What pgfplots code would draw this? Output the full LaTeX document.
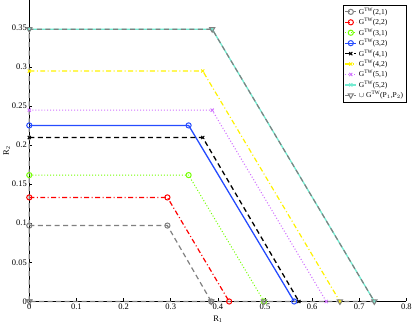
\documentclass[border=0pt]{standalone}
\usepackage{fontspec}
\setmainfont{Liberation Serif}
\usepackage{pgfplots}
\pgfplotsset{compat=1.18}

\definecolor{mgray}{rgb}{0.5,0.5,0.5}
\definecolor{mgreen}{rgb}{0.45,1,0}
\definecolor{mblue}{rgb}{0.15,0.3,1}
\definecolor{mviolet}{rgb}{0.82,0.45,1}
\definecolor{maqua}{rgb}{0.45,0.92,0.82}

\tikzset{
  mdash/.style={dash pattern=on 5pt off 3.5pt},
  mdashdot/.style={dash pattern=on 5pt off 2.5pt on 1pt off 2.5pt},
  mdot/.style={dash pattern=on 1pt off 2pt},
}

\begin{document}
\begin{tikzpicture}
\begin{axis}[
    width=378pt, height=302pt, scale only axis,
    xmin=0, xmax=0.8, ymin=0, ymax=0.385,
    axis x line=bottom, axis y line=left,
    axis line style={-, black},
    tick align=inside,
    tick style={black, thin},
    major tick length=3pt,
    xtick={0,0.1,...,0.8},
    ytick={0,0.05,0.1,0.15,0.2,0.25,0.3,0.35},
    xticklabels={0,0.1,0.2,0.3,0.4,0.5,0.6,0.7,0.8},
    yticklabels={0,0.05,0.1,0.15,0.2,0.25,0.3,0.35},
    font=\fontsize{8.5}{9.5}\selectfont,
    xticklabel style={yshift=1pt},
    yticklabel style={xshift=1pt},
    xlabel={R\textsubscript{1}},
    ylabel={R\textsubscript{2}},
    xlabel style={yshift=1pt},
    ylabel style={yshift=-5pt},
    clip=false,
    legend style={at={(1,0.985)}, anchor=north east, draw=black,
        font=\fontsize{7.5}{8}\selectfont, inner sep=1pt, row sep=-1.5pt,
        legend cell align=left},
    legend image code/.code={\draw[#1] (0pt,0pt) -- (11pt,0pt);
        \draw[#1, solid] plot coordinates {(5.5pt,0pt)};},
]
% G(2,1)
\addplot[mgray, mdash, line width=1.2pt, mark=o, mark size=2.6pt, mark options={solid, line width=1pt}]
  coordinates {(0,0.097)(0.293,0.097)(0.386,0)};
\addlegendentry{G$^{\mathrm{TW}}$(2,1)}
% G(2,2)
\addplot[red, mdashdot, line width=1.2pt, mark=o, mark size=2.6pt, mark options={solid, line width=1pt}]
  coordinates {(0,0.133)(0.293,0.133)(0.424,0)};
\addlegendentry{G$^{\mathrm{TW}}$(2,2)}
% G(3,1)
\addplot[mgreen, mdot, line width=1pt, mark=o, mark size=2.6pt, mark options={solid, line width=1pt}]
  coordinates {(0,0.1615)(0.338,0.1615)(0.498,0)};
\addlegendentry{G$^{\mathrm{TW}}$(3,1)}
% G(3,2)
\addplot[mblue, solid, line width=1.3pt, mark=o, mark size=2.6pt, mark options={solid, line width=1pt}]
  coordinates {(0,0.225)(0.338,0.225)(0.562,0)};
\addlegendentry{G$^{\mathrm{TW}}$(3,2)}
% G(4,1)
\addplot[black, mdash, line width=1.3pt, mark=x, mark size=2.2pt, mark options={solid, line width=1pt}]
  coordinates {(0,0.2095)(0.368,0.2095)(0.572,0)};
\addlegendentry{G$^{\mathrm{TW}}$(4,1)}
% G(4,2)
\addplot[yellow, mdashdot, line width=1.2pt, mark=x, mark size=2.2pt, mark options={solid, line width=1pt}]
  coordinates {(0,0.2945)(0.368,0.2945)(0.659,0)};
\addlegendentry{G$^{\mathrm{TW}}$(4,2)}
% G(5,1)
\addplot[mviolet, mdot, line width=1.1pt, mark=x, mark size=2.2pt, mark options={solid, line width=1pt}]
  coordinates {(0,0.2445)(0.388,0.2445)(0.630,0)};
\addlegendentry{G$^{\mathrm{TW}}$(5,1)}
% G(5,2)
\addplot[maqua, solid, line width=1.3pt, mark=x, mark size=2.2pt, mark options={solid, line width=1pt}]
  coordinates {(0,0.348)(0.388,0.348)(0.732,0)};
\addlegendentry{G$^{\mathrm{TW}}$(5,2)}
% union
\addplot[mgray, mdash, line width=1.2pt, mark=triangle, mark size=3pt, mark options={solid, rotate=180, line width=1pt}]
  coordinates {(0,0)(0,0.348)(0.388,0.348)(0.732,0)(0.659,0)(0.498,0)(0.386,0)(0,0)};
\addlegendentry{$\cup$ G$^{\mathrm{TW}}$(P$_1$,P$_2$)}
\end{axis}
\end{tikzpicture}
\end{document}
